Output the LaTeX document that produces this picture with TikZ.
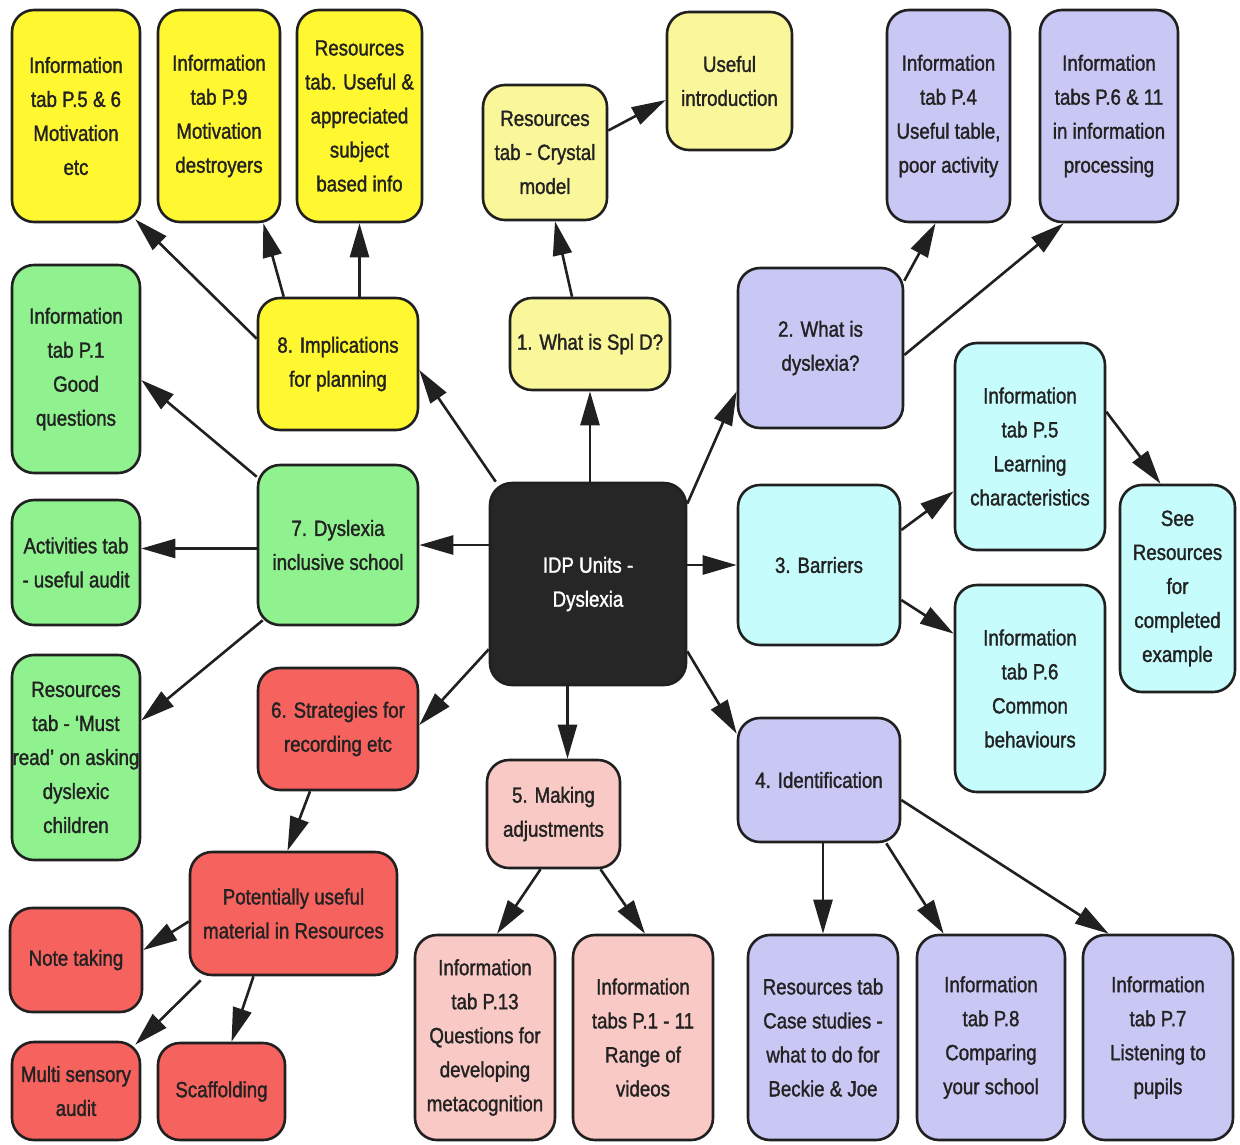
\documentclass[tikz,border=0pt]{standalone}
\usepackage{fontspec}
\newfontfamily\boxfont[FakeStretch=0.85,FakeBold=1.4]{Liberation Sans}
\usetikzlibrary{arrows.meta}
\pgfdeclarelayer{background}
\pgfsetlayers{background,main}
\definecolor{cyel}{HTML}{FFF830}
\definecolor{clyel}{HTML}{FAF79A}
\definecolor{cpur}{HTML}{C9C8F5}
\definecolor{ccyan}{HTML}{C6FCFC}
\definecolor{cgreen}{HTML}{8FF28F}
\definecolor{cred}{HTML}{F6625E}
\definecolor{cpink}{HTML}{F9C9C6}
\definecolor{cdark}{HTML}{262626}
\definecolor{cline}{HTML}{202020}
\definecolor{ctext}{HTML}{222222}
\begin{document}
\begin{tikzpicture}[x=1pt,y=-1pt,
  bx/.style={draw=cline, line width=2.6pt, rounded corners=22pt, align=center,
    inner sep=0pt, text=ctext, font=\boxfont\fontsize{22}{34}\selectfont},
  wh/.style 2 args={minimum width=#1pt, minimum height=#2pt},
  arr/.style={draw=cline, line width=2.6pt,
    -{Triangle[length=34pt,width=19pt]}}]
\useasboundingbox (0,0) rectangle (1240,1144);

% top row
\node[bx, fill=cyel, wh={128}{212}] (Y1) at (76,116) {Information\\tab P.5 \& 6\\Motivation\\etc};
\node[bx, fill=cyel, wh={122}{212}] (Y2) at (219,116) {Information\\tab P.9\\Motivation\\destroyers};
\node[bx, fill=cyel, wh={125}{212}] (Y3) at (359.5,116) {Resources\\tab. Useful \&\\appreciated\\subject\\based info};
\node[bx, fill=clyel, wh={124}{135}] (Cry) at (545,152.5) {Resources\\tab - Crystal\\model};
\node[bx, fill=clyel, wh={125}{138}] (Use) at (729.5,81) {Useful\\introduction};
\node[bx, fill=cpur, wh={123}{212}] (P1) at (948.5,116) {Information\\tab P.4\\Useful table,\\poor activity};
\node[bx, fill=cpur, wh={138}{212}] (P2) at (1109,116) {Information\\tabs P.6 \& 11\\in information\\processing};

% second band
\node[bx, fill=cgreen, wh={128}{208}] (G1) at (76,369) {Information\\tab P.1\\Good\\questions};
\node[bx, fill=cyel, wh={160}{132}] (n8) at (338,364) {8. Implications\\for planning};
\node[bx, fill=clyel, wh={160}{92}] (n1) at (590,344) {1. What is Spl D?};
\node[bx, fill=cpur, wh={165}{160}] (n2) at (820.5,348) {2. What is\\dyslexia?};
\node[bx, fill=ccyan, wh={150}{207}] (C1) at (1030,446.5) {Information\\tab P.5\\Learning\\characteristics};

% middle band
\node[bx, fill=cdark, text=white, wh={196}{202}] (c) at (588,584) {IDP Units -\\Dyslexia};
\node[bx, fill=cgreen, wh={160}{160}] (n7) at (338,545) {7. Dyslexia\\inclusive school};
\node[bx, fill=cgreen, wh={128}{125}] (Act) at (76,562.5) {Activities tab\\- useful audit};
\node[bx, fill=ccyan, wh={162}{160}] (n3) at (819,565) {3. Barriers};
\node[bx, fill=ccyan, wh={115}{207}] (See) at (1177.5,588.5) {See\\Resources\\for\\completed\\example};
\node[bx, fill=ccyan, wh={150}{207}] (C2) at (1030,688.5) {Information\\tab P.6\\Common\\behaviours};

% lower band
\node[bx, fill=cgreen, wh={128}{205}] (Must) at (76,757.5) {Resources\\tab - ‘Must\\read’ on asking\\dyslexic\\children};
\node[bx, fill=cred, wh={160}{122}] (n6) at (338,729) {6. Strategies for\\recording etc};
\node[bx, fill=cpink, wh={133}{108}] (n5) at (553.5,814) {5. Making\\adjustments};
\node[bx, fill=cpur, wh={162}{124}] (n4) at (819,780) {4. Identification};
\node[bx, fill=cred, wh={207}{123}] (Pot) at (293.5,913.5) {Potentially useful\\material in Resources};
\node[bx, fill=cred, wh={132}{104}] (Note) at (76,960) {Note taking};
\node[bx, fill=cred, wh={128}{98}] (Multi) at (76,1091) {Multi sensory\\audit};
\node[bx, fill=cred, wh={127}{97}] (Scaf) at (221.5,1091.5) {Scaffolding};

% bottom row
\node[bx, fill=cpink, wh={140}{205}] (P13) at (485,1037.5) {Information\\tab P.13\\Questions for\\developing\\metacognition};
\node[bx, fill=cpink, wh={140}{205}] (P111) at (643,1037.5) {Information\\tabs P.1 - 11\\Range of\\videos};
\node[bx, fill=cpur, wh={150}{205}] (Case) at (823,1037.5) {Resources tab\\Case studies -\\what to do for\\Beckie \& Joe};
\node[bx, fill=cpur, wh={148}{205}] (P8) at (991,1037.5) {Information\\tab P.8\\Comparing\\your school};
\node[bx, fill=cpur, wh={150}{205}] (P7) at (1158,1037.5) {Information\\tab P.7\\Listening to\\pupils};

% helper coordinates
\coordinate (e5) at ([xshift=14pt]n5.north);
\coordinate (a7) at ([yshift=14pt]Act.east);

\begin{pgfonlayer}{background}
% arrows from centre
\draw[arr] (n1.south |- c.north) -- (n1.south);
\draw[arr] ([xshift=7pt]c.north west) -- ([yshift=-6pt]n8.east);
\draw[arr] (c.west |- n7.east) -- (n7.east);
\draw[arr] ([yshift=37pt]c.south west) -- ([yshift=4pt]n6.east);
\draw[arr] (e5 |- c.south) -- (e5);
\draw[arr] ([yshift=35pt]c.south east) -- ([yshift=-17pt]n4.north west);
\draw[arr] (c.east |- n3.west) -- (n3.west);
\draw[arr] ([yshift=-22pt]c.north east) -- ([yshift=38pt]n2.south west);

% arrows from 2
\draw[arr] ([yshift=-14pt]n2.north east) -- ([xshift=-13pt]P1.south);
\draw[arr] ([yshift=-7pt]n2.east) -- ([xshift=25pt]P2.south west);
% arrows from 3
\draw[arr] ([yshift=35pt]n3.east) -- ([yshift=60pt]C1.south west);
\draw[arr] ([yshift=-35pt]n3.east) -- ([yshift=-50pt]C2.north west);
\draw[arr] ([yshift=-70pt]C1.north east) -- ([xshift=-17pt]See.north);
% arrows from 4
\draw[arr] (Case.north |- n4.south) -- (Case.north);
\draw[arr] ([xshift=-15pt]n4.south east) -- ([xshift=28pt]P8.north west);
\draw[arr] ([yshift=-20pt]n4.east) -- ([xshift=27pt]P7.north west);
% arrows from 5
\draw[arr] ([xshift=-13pt]n5.south) -- ([xshift=12pt]P13.north);
\draw[arr] ([xshift=47pt]n5.south) -- ([xshift=2pt]P111.north);
% arrows from 6 and Pot
\draw[arr] ([xshift=-28pt]n6.south) -- ([xshift=-6pt]Pot.north);
\draw[arr] ([yshift=-8pt]Pot.west) -- ([yshift=10pt]Note.east);
\draw[arr] ([xshift=12pt,yshift=-4pt]Pot.south west) -- ([xshift=-6pt,yshift=-4pt]Multi.north east);
\draw[arr] ([xshift=-40pt]Pot.south) -- ([xshift=10pt]Scaf.north);
% arrows from 7
\draw[arr] ([yshift=-13pt]n7.north west) -- ([yshift=-11pt]G1.east);
\draw[arr] (a7 -| n7.west) -- (a7);
\draw[arr] ([xshift=6pt,yshift=6pt]n7.south west) -- ([yshift=37pt]Must.east);
% arrows from 8
\draw[arr] ([yshift=-42pt]n8.north west) -- ([xshift=-6pt,yshift=4pt]Y1.south east);
\draw[arr] ([xshift=27pt]n8.north west) -- ([xshift=-18pt]Y2.south east);
\draw[arr] (Y3.south |- n8.north) -- (Y3.south);
% arrows from 1 and Crystal
\draw[arr] ([xshift=-18pt]n1.north) -- ([xshift=10pt]Cry.south);
\draw[arr] ([yshift=22pt]Cry.east) -- ([yshift=-19pt]Use.west);
\end{pgfonlayer}
\end{tikzpicture}
\end{document}
